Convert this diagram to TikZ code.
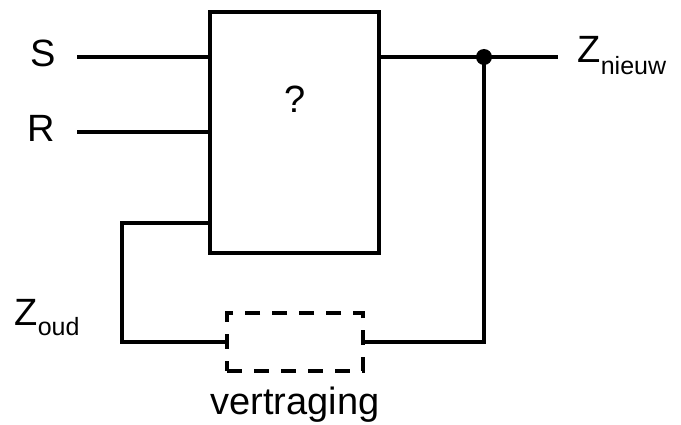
\documentclass[tikz,border=0pt]{standalone}
\usepackage{fontspec}
\setmainfont{Liberation Sans}
\begin{document}
\begin{tikzpicture}[x=1pt,y=-1pt,
  wire/.style={line width=3.3pt},
  lbl/.style={inner sep=0pt,font=\fontsize{38}{40}\selectfont},
  subl/.style={inner sep=0pt,font=\fontsize{25}{28}\selectfont},
  gatebox/.style={draw,line width=3.3pt,minimum width=169pt,minimum height=241pt,inner sep=0pt},
  delaybox/.style={draw,line width=3.3pt,dash pattern=on 15pt off 12pt,minimum width=136pt,minimum height=58pt,inner sep=0pt}]
\useasboundingbox (0,0) rectangle (681,425);
% main box
\node[gatebox] (gate) at (294.5,132.5) {};
\node[lbl,anchor=base] (q) at (295,113) {?};
% delay
\node[delaybox] (delay) at (295,342) {};
\node[lbl,anchor=base] (vt) at (295,414) {vertraging};
% labels
\node[lbl,anchor=base] (S) at (43,67) {S};
\node[lbl,anchor=base] (R) at (41,142) {R};
\node[lbl,anchor=base west] (Zn) at (577,63) {Z};
\node[subl,anchor=base west] (Znsub) at (Zn.base east) [yshift=-12pt] {nieuw};
\node[lbl,anchor=base west] (Zo) at (14,325) {Z};
\node[subl,anchor=base west] (Zosub) at (Zo.base east) [yshift=-10pt] {oud};
% coordinates
\coordinate (sIn) at (77,57);
\coordinate (rIn) at (77,132);
\coordinate (fbIn) at (210,223);
\coordinate (fbL) at (122,223);
\coordinate (fbLb) at (122,342);
\coordinate (out) at (379,57);
\coordinate (outEnd) at (558,57);
\coordinate (junc) at (484,57);
\coordinate (juncB) at (484,342);
% wires
\draw[wire] (sIn) -- (gate.west |- sIn);
\draw[wire] (rIn) -- (gate.west |- rIn);
\draw[wire] (gate.west |- fbIn) -- (fbL) -- (fbLb) -- (delay.west);
\draw[wire] (gate.east |- out) -- (outEnd);
\draw[wire] (delay.east) -- (juncB) -- (junc);
\fill (junc) circle (8pt);
\end{tikzpicture}
\end{document}
